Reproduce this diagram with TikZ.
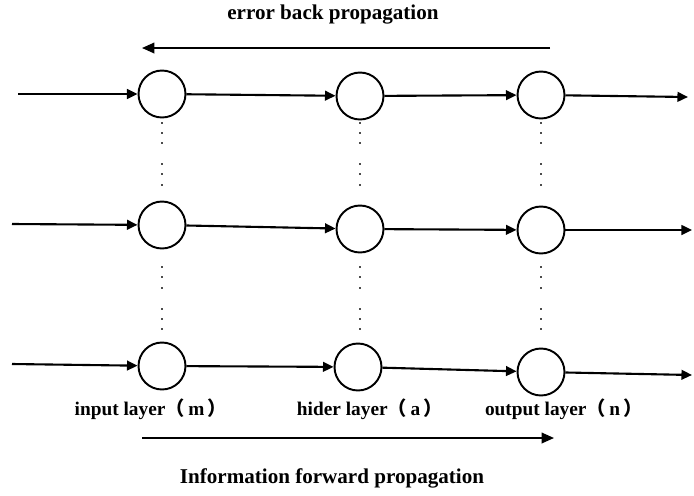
\documentclass[tikz,border=0pt]{standalone}
\usepackage{fontspec}
\setmainfont{Liberation Serif}
\newfontfamily\cjk{Noto Sans CJK SC}
\usetikzlibrary{arrows.meta}

\begin{document}
\begin{tikzpicture}[x=0.02cm,y=-0.02cm,
  neuron/.style={draw,circle,line width=1.1pt,minimum size=0.94cm,inner sep=0pt},
  flow/.style={line width=1.2pt,-{Triangle[length=6pt,width=5.5pt]}},
  bigflow/.style={line width=1pt,-{Triangle[length=7pt,width=6pt]}},
  lbl/.style={font=\bfseries\fontsize{11}{13}\selectfont},
  title/.style={font=\bfseries\fontsize{12}{14}\selectfont}]
\useasboundingbox (0,0) rectangle (694,495);

% Neurons
\node[neuron] (n11) at (162,94) {};
\node[neuron] (n12) at (360,96) {};
\node[neuron] (n13) at (541,95) {};
\node[neuron] (n21) at (162,225) {};
\node[neuron] (n22) at (360,229) {};
\node[neuron] (n23) at (541,230) {};
\node[neuron] (n31) at (162,366) {};
\node[neuron] (n32) at (358,367) {};
\node[neuron] (n33) at (541,372) {};

% Free ends
\coordinate (in1) at (18,94);
\coordinate (in2) at (12,224);
\coordinate (in3) at (12,364);
\coordinate (out1) at (688,97);
\coordinate (out2) at (692,230);
\coordinate (out3) at (692,375);

% Dots between rows
\foreach \c in {162,360,541} {
  \foreach \y in {123,133,143,164,174,185,267,277,288,309,319,329} {
    \fill[black!70] (\c-1,\y-1) rectangle (\c+1,\y+1);
  }
}

% Row connectors
\draw[flow] (in1) -- (n11);
\draw[flow] (n11) -- (n12);
\draw[flow] (n12) -- (n13);
\draw[flow] (n13) -- (out1);
\draw[flow] (in2) -- (n21);
\draw[flow] (n21) -- (n22);
\draw[flow] (n22) -- (n23);
\draw[flow] (n23) -- (out2);
\draw[flow] (in3) -- (n31);
\draw[flow] (n31) -- (n32);
\draw[flow] (n32) -- (n33);
\draw[flow] (n33) -- (out3);

% Propagation
\node[title] (back) at (333,15) {error back propagation};
\coordinate (bs) at (550,48);
\coordinate (be) at (142,48);
\draw[bigflow] (bs) -- (be);

\node[lbl] (lin) at (151,409) {input layer{\cjk （}\hspace{2pt}m\hspace{2pt}{\cjk ）}};
\node[lbl] (lhid) at (370,409) {hider layer{\cjk （}\hspace{2pt}a\hspace{2pt}{\cjk ）}};
\node[lbl] (lout) at (564,409) {output layer{\cjk （}\hspace{2pt}n\hspace{2pt}{\cjk ）}};

\coordinate (fs) at (142,438);
\coordinate (fe) at (554,438);
\draw[bigflow] (fs) -- (fe);
\node[title] (fwd) at (332,478) {Information forward propagation};
\end{tikzpicture}
\end{document}
